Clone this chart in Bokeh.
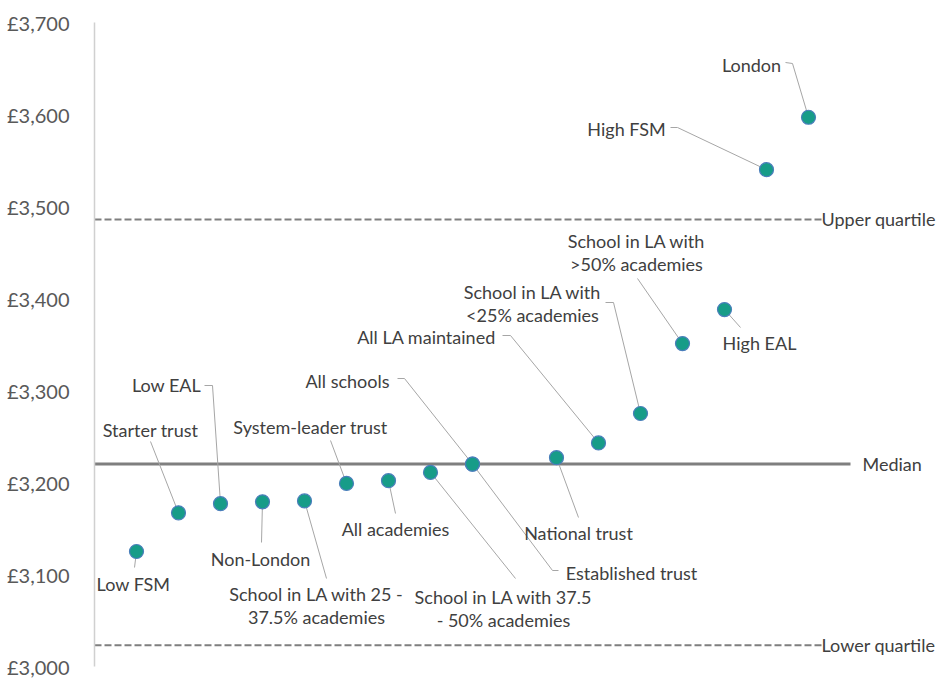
from bokeh.plotting import figure
from bokeh.models import Range1d, FixedTicker
from bokeh.core.properties import value
from bokeh.embed import file_html
from bokeh.resources import INLINE

# ---------------- data ----------------
categories = [
    "Low FSM", "Starter trust", "Low EAL", "Non-London",
    "School in LA with 25 -\n37.5% academies", "System-leader trust",
    "All academies", "School in LA with 37.5\n- 50% academies",
    "All schools", "Established trust", "National trust",
    "All LA maintained", "School in LA with\n<25% academies",
    "School in LA with\n>50% academies", "High EAL", "High FSM", "London",
]
rank = [1, 2, 3, 4, 5, 6, 7, 8, 9, 9, 11, 12, 13, 14, 15, 16, 17]
cost = [3125, 3167, 3177, 3179, 3180, 3199, 3202, 3211, 3220, 3220,
        3227, 3243, 3275, 3351, 3388, 3540, 3597]
upper_quartile = 3486
median_value = 3220
lower_quartile = 3023
y_ticks = [3000, 3100, 3200, 3300, 3400, 3500, 3600, 3700]

# ---------------- layout (page pixels of labels / leader elbows) ----------------
label_pos = [
    (133, 583), (150, 429), (166, 384), (260, 558), (316, 605), (310, 426),
    (395, 528), (503, 608), (347, 380), (631, 572), (578, 532), (426, 336),
    (532, 303), (636, 252), (759, 342), (626, 128), (751, 64),
]
leader_pts = [
    [(134, 567)], [(150, 441)], [(204, 385), (212, 385)], [(261, 542)],
    [(326, 578)], [(330, 440)], [(395, 513)], [(515, 578)],
    [(397, 378), (404, 378)], [(558, 570), (552, 570)], [(578, 517)],
    [(502, 335), (510, 335)], [(605, 302), (613, 302)], [(637, 278)],
    [(740, 327)], [(670, 127), (677, 127)], [(785, 62), (792, 63)],
]

W, H = 939, 679
FRAME_L, FRAME_T, FRAME_B = 94, 22, 666
PX_PER_X = 42.0
PX_PER_Y = (FRAME_B - FRAME_T) / 700.0


def dx(px):
    return (px - FRAME_L) / PX_PER_X


def dy(py):
    return 3700 - (py - FRAME_T) / PX_PER_Y


FONT = "Lato"
TXT = "#404040"

p = figure(width=W, height=H, output_backend="svg", toolbar_location=None,
           x_range=Range1d(0, (W - FRAME_L) / PX_PER_X),
           y_range=Range1d(3000, 3700),
           min_border_left=FRAME_L, min_border_right=0, min_border_top=FRAME_T,
           min_border_bottom=H - FRAME_B, x_axis_location=None)
p.outline_line_color = None
p.xgrid.visible = False
p.ygrid.visible = False
p.background_fill_color = "white"
p.border_fill_color = "white"

ax = p.yaxis[0]
ax.ticker = FixedTicker(ticks=y_ticks)
ax.major_label_overrides = {t: f"£{t:,}" for t in y_ticks}
ax.axis_line_color = "#d0d0d0"
ax.axis_line_width = 1.5
ax.major_tick_line_color = None
ax.minor_tick_line_color = None
ax.major_label_standoff = 19
ax.major_label_text_font = FONT
ax.major_label_text_font_size = "20px"
ax.major_label_text_color = "#595959"

# reference lines
p.line([0, dx(822)], [upper_quartile, upper_quartile], line_color="#7f7f7f",
       line_width=2, line_dash="7 3")
p.line([0, dx(822)], [lower_quartile, lower_quartile], line_color="#7f7f7f",
       line_width=2, line_dash="7 3")
p.line([0, dx(850)], [median_value, median_value], line_color="#7f7f7f",
       line_width=3)
p.text(x=[dx(821), dx(862), dx(821)], y=[upper_quartile, median_value, lower_quartile],
       text=["Upper quartile", "Median", "Lower quartile"],
       text_font=value(FONT), text_font_size="18px", text_color=TXT,
       text_align="left", text_baseline="middle")

# leader lines
xs, ys = [], []
for pts, r, c in zip(leader_pts, rank, cost):
    xs.append([dx(a) for a, _ in pts] + [r])
    ys.append([dy(b) for _, b in pts] + [c])
p.multi_line(xs, ys, line_color="#a6a6a6", line_width=1)

# points
p.scatter(rank, cost, size=14, fill_color="#179c88", line_color="#4a7ebb",
          line_width=1.2)

# labels
p.text(x=[dx(a) for a, _ in label_pos], y=[dy(b) for _, b in label_pos],
       text=categories, text_font=value(FONT), text_font_size="18px",
       text_color=TXT, text_align="center", text_baseline="middle",
       text_line_height=1.05)

open("out.html", "w").write(file_html(p, INLINE))
